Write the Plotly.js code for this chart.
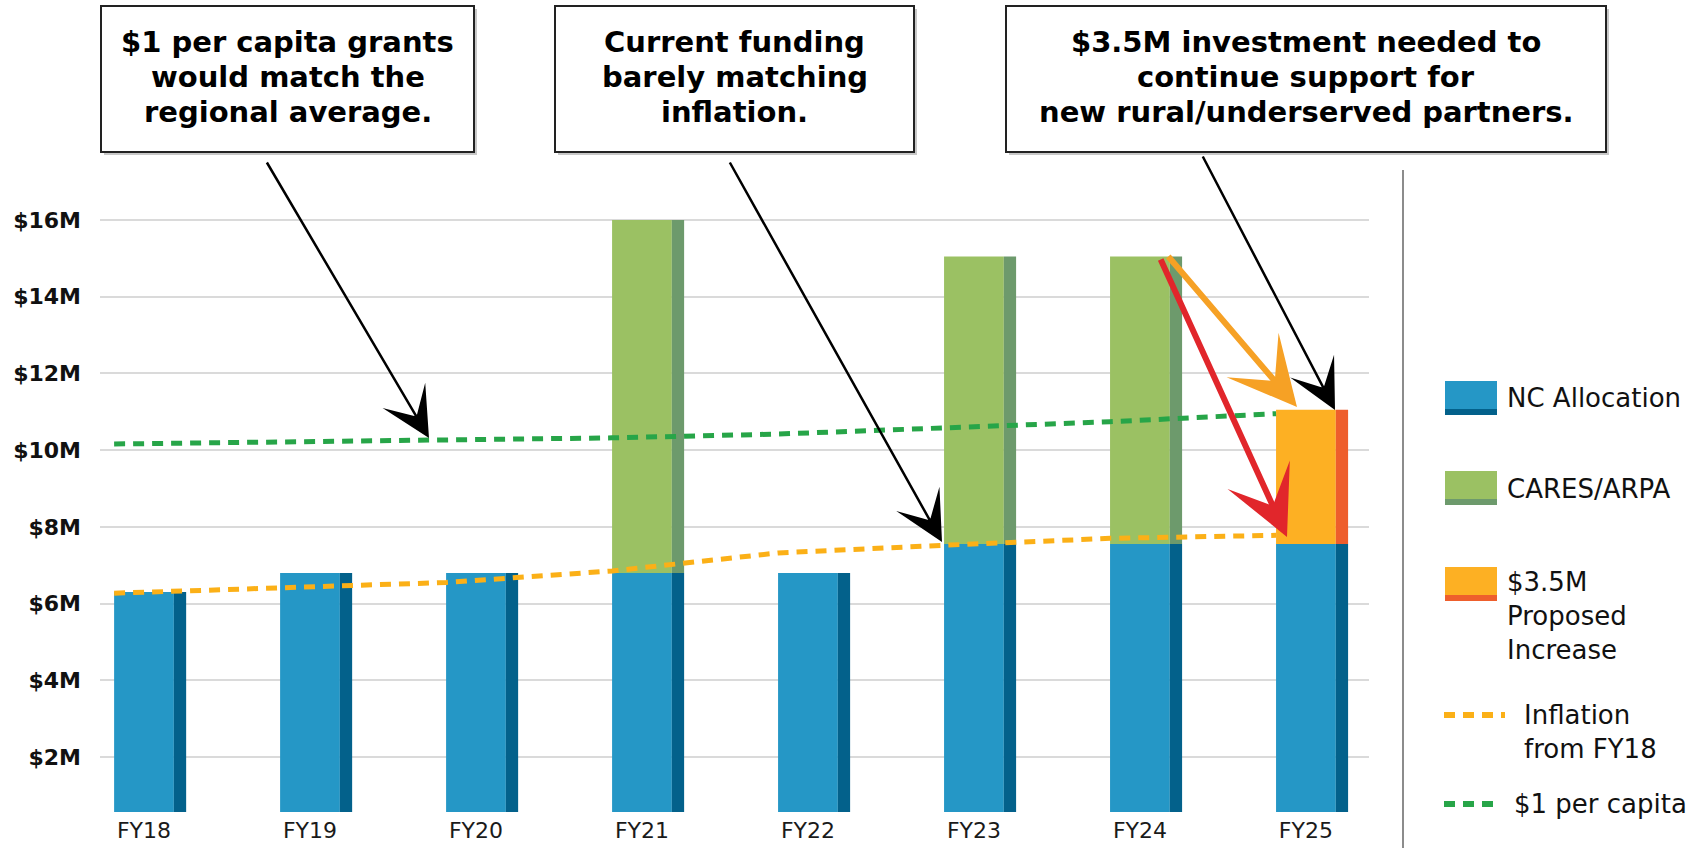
<!DOCTYPE html>
<html>
<head>
<meta charset="utf-8">
<script src="https://cdn.plot.ly/plotly-3.0.1.min.js"></script>
<style>
  html, body { margin: 0; padding: 0; background: #fff; }
  #chart { width: 1701px; height: 848px; }
</style>
</head>
<body>
<div id="chart"></div>
<script>
// Funding by fiscal year, in $M
const years = ['FY18', 'FY19', 'FY20', 'FY21', 'FY22', 'FY23', 'FY24', 'FY25'];
const ncAllocation = [6.3, 6.8, 6.8, 6.8, 6.8, 7.55, 7.55, 7.55];
const caresArpa = [0, 0, 0, 9.2, 0, 7.5, 7.5, 0];
const proposedIncrease = [0, 0, 0, 0, 0, 0, 0, 3.5];
const inflationFromFY18 = [6.27, 6.42, 6.55, 6.85, 7.32, 7.52, 7.7, 7.78];
const perCapita = [10.16, 10.22, 10.27, 10.32, 10.42, 10.57, 10.74, 10.95];

const yTickVals = [2, 4, 6, 8, 10, 12, 14, 16];
const yTickText = ['$2M', '$4M', '$6M', '$8M', '$10M', '$12M', '$14M', '$16M'];

// colours
const blue = '#2597c6', blueSide = '#03618b';
const green = '#9bc163', greenSide = '#6d9a6c';
const orange = '#fdb023', orangeSide = '#ee5e2c';
const lineOrange = '#fbb017', lineGreen = '#27a548';

// page geometry (px)
const W = 1701, H = 848;
const margin = { l: 100, r: 332, t: 190, b: 36 };
const plotW = W - margin.l - margin.r;
const plotH = H - margin.t - margin.b;
const plotBottom = H - margin.b;
const xRange = [-0.265, 7.38];
const yRange = [0.566, 16.782];
const frontW = 0.36, sideW = 0.074;

// pixel -> paper helpers for the decorations
const px = x => (x - margin.l) / plotW;
const py = y => (plotBottom - y) / plotH;

function barPair(y, base, front, side) {
  return [
    { type: 'bar', x: years, y: y, base: base, width: frontW, offset: -frontW / 2,
      marker: { color: front, line: { width: 0 } }, showlegend: false, hoverinfo: 'skip' },
    { type: 'bar', x: years, y: y, base: base, width: sideW, offset: frontW / 2,
      marker: { color: side, line: { width: 0 } }, showlegend: false, hoverinfo: 'skip' }
  ];
}

const data = [
  ...barPair(ncAllocation, years.map(() => 0), blue, blueSide),
  ...barPair(caresArpa, ncAllocation, green, greenSide),
  ...barPair(proposedIncrease, ncAllocation, orange, orangeSide),
  { type: 'scatter', mode: 'lines', x: years, y: inflationFromFY18, xaxis: 'x2',
    line: { color: lineOrange, width: 5, dash: '11px,8px' }, showlegend: false, hoverinfo: 'skip' },
  { type: 'scatter', mode: 'lines', x: years, y: perCapita, xaxis: 'x2',
    line: { color: lineGreen, width: 5, dash: '11px,8px' }, showlegend: false, hoverinfo: 'skip' }
];

// callout boxes, one annotation per text line
const boxes = [
  { x0: 101, x1: 474, lines: ['$1 per capita grants', 'would match the', 'regional average.'] },
  { x0: 555, x1: 914, lines: ['Current funding', 'barely matching', 'inflation.'] },
  { x0: 1006, x1: 1606, lines: ['$3.5M investment needed to', 'continue support for', 'new rural/underserved partners.'] }
];
const lineY = [42, 77, 112];

const shapes = [];
const annotations = [];

boxes.forEach(b => {
  shapes.push({ type: 'rect', xref: 'paper', yref: 'paper', layer: 'above',
    x0: px(b.x0 + 3), x1: px(b.x1 + 3), y0: py(155), y1: py(9),
    fillcolor: '#c8c8c8', line: { width: 0 } });
  shapes.push({ type: 'rect', xref: 'paper', yref: 'paper', layer: 'above',
    x0: px(b.x0), x1: px(b.x1), y0: py(152), y1: py(6),
    fillcolor: '#ffffff', line: { color: '#222', width: 2 } });
  b.lines.forEach((t, i) => {
    annotations.push({ xref: 'paper', yref: 'paper', x: px((b.x0 + b.x1) / 2), y: py(lineY[i]),
      xanchor: 'center', yanchor: 'middle', showarrow: false, text: t,
      font: { family: 'DejaVu Sans', size: 29, color: '#000', weight: 'bold' } });
  });
});

// arrows: tip and tail in page px
const arrows = [
  { tip: [429, 438], tail: [266, 161], color: '#000', width: 2.5, size: 3.3 },
  { tip: [942, 542], tail: [729, 161], color: '#000', width: 2.5, size: 3.3 },
  { tip: [1335, 410], tail: [1202, 155], color: '#000', width: 2.5, size: 3.3 },
  { tip: [1297, 407], tail: [1167, 255], color: '#f6a125', width: 6, size: 1.9 },
  { tip: [1287, 537], tail: [1160, 258], color: '#e1262b', width: 6, size: 1.9 }
];
arrows.forEach(a => {
  annotations.push({ xref: 'paper', yref: 'paper', x: px(a.tip[0]), y: py(a.tip[1]),
    axref: 'pixel', ayref: 'pixel', ax: a.tail[0] - a.tip[0], ay: a.tail[1] - a.tip[1],
    text: '', showarrow: true, arrowhead: 3, arrowsize: a.size, arrowwidth: a.width,
    arrowcolor: a.color, standoff: 0 });
});

// legend, drawn by hand to the right of the separator
shapes.push({ type: 'line', xref: 'paper', yref: 'paper', x0: px(1403), x1: px(1403),
  y0: py(170), y1: py(848), line: { color: '#666', width: 1.5 } });

const legendFont = { family: 'DejaVu Sans', size: 26, color: '#111' };
const swatches = [
  { top: 381, front: blue, side: blueSide, label: 'NC Allocation', ty: 398 },
  { top: 471, front: green, side: greenSide, label: 'CARES/ARPA', ty: 489 },
  { top: 567, front: orange, side: orangeSide, label: '$3.5M<br>Proposed<br>Increase', ty: 616 }
];
swatches.forEach(s => {
  shapes.push({ type: 'rect', xref: 'paper', yref: 'paper', x0: px(1445), x1: px(1497),
    y0: py(s.top + 34), y1: py(s.top + 28), fillcolor: s.side, line: { width: 0 } });
  shapes.push({ type: 'rect', xref: 'paper', yref: 'paper', x0: px(1445), x1: px(1497),
    y0: py(s.top + 28), y1: py(s.top), fillcolor: s.front, line: { width: 0 } });
  annotations.push({ xref: 'paper', yref: 'paper', x: px(1505), y: py(s.ty), xanchor: 'left',
    yanchor: 'middle', align: 'left', showarrow: false, text: s.label, font: legendFont });
});
[
  { y: 715, x1: 1505, color: lineOrange, label: 'Inflation<br>from FY18', tx: 1522, ty: 732 },
  { y: 804, x1: 1500, color: lineGreen, label: '$1 per capita', tx: 1512, ty: 804 }
].forEach(s => {
  shapes.push({ type: 'line', xref: 'paper', yref: 'paper', x0: px(1444), x1: px(s.x1),
    y0: py(s.y), y1: py(s.y), line: { color: s.color, width: 6, dash: '11px,8px' } });
  annotations.push({ xref: 'paper', yref: 'paper', x: px(s.tx), y: py(s.ty), xanchor: 'left',
    yanchor: 'middle', align: 'left', showarrow: false, text: s.label, font: legendFont });
});

const layout = {
  width: W,
  height: H,
  margin: margin,
  paper_bgcolor: '#fff',
  plot_bgcolor: '#fff',
  barmode: 'overlay',
  showlegend: false,
  xaxis: {
    type: 'category',
    categoryarray: years,
    range: xRange,
    showgrid: false,
    zeroline: false,
    showline: false,
    ticks: '',
    ticklabelstandoff: 3,
    tickfont: { family: 'DejaVu Sans', size: 22, color: '#1a1a1a' }
  },
  xaxis2: {
    type: 'category',
    categoryarray: years,
    overlaying: 'x',
    range: [xRange[0] + frontW / 2, xRange[1] + frontW / 2],
    visible: false
  },
  yaxis: {
    range: yRange,
    tickvals: yTickVals,
    ticktext: yTickText,
    showgrid: true,
    gridcolor: '#dadada',
    gridwidth: 2,
    zeroline: false,
    showline: false,
    ticks: '',
    ticklabelstandoff: 18,
    tickfont: { family: 'DejaVu Sans', size: 22, color: '#111', weight: 'bold' }
  },
  shapes: shapes,
  annotations: annotations
};

Plotly.newPlot('chart', data, layout, { displayModeBar: false, staticPlot: true });
</script>
</body>
</html>
